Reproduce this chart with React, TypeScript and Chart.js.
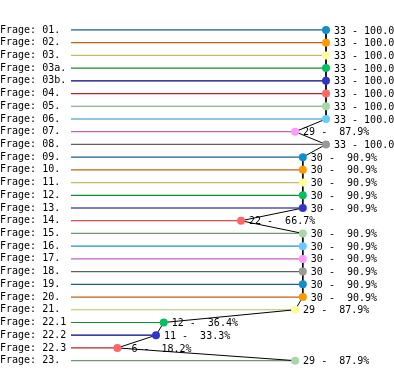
import React, { useEffect, useRef } from "react";
import { Chart, registerables } from "chart.js";

Chart.register(...registerables);

const categories = [
  "Frage: 01.", "Frage: 02.", "Frage: 03.", "Frage: 03a.", "Frage: 03b.",
  "Frage: 04.", "Frage: 05.", "Frage: 06.", "Frage: 07.", "Frage: 08.",
  "Frage: 09.", "Frage: 10.", "Frage: 11.", "Frage: 12.", "Frage: 13.",
  "Frage: 14.", "Frage: 15.", "Frage: 16.", "Frage: 17.", "Frage: 18.",
  "Frage: 19.", "Frage: 20.", "Frage: 21.", "Frage: 22.1", "Frage: 22.2",
  "Frage: 22.3", "Frage: 23.",
];

const counts = [
  33, 33, 33, 33, 33, 33, 33, 33, 29, 33,
  30, 30, 30, 30, 30, 22, 30, 30, 30, 30,
  30, 30, 29, 12, 11, 6, 29,
];

const percents = [
  100.0, 100.0, 100.0, 100.0, 100.0, 100.0, 100.0, 100.0, 87.9, 100.0,
  90.9, 90.9, 90.9, 90.9, 90.9, 66.7, 90.9, 90.9, 90.9, 90.9,
  90.9, 90.9, 87.9, 36.4, 33.3, 18.2, 87.9,
];

const lineColors = [
  "#1a5f8a", "#c06010", "#c0c060", "#109030", "#000080",
  "#c02020", "#709870", "#2090c0", "#c060c0", "#606060",
];

const pointColors = [
  "#1090c8", "#ff9900", "#ffff99", "#00c060", "#3333cc",
  "#ff6666", "#a8d8a8", "#66ccff", "#ff99ff", "#999999",
];

const FONT = "'DejaVu Sans Mono', monospace";

export default function App() {
  const ref = useRef<HTMLCanvasElement | null>(null);

  useEffect(() => {
    if (!ref.current) return;
    const n = categories.length;

    const connector = {
      type: "line" as const,
      data: counts.map((v, i) => ({ x: v, y: i })),
      borderColor: "#000000",
      borderWidth: 1,
      pointRadius: 4,
      pointHoverRadius: 4,
      pointBackgroundColor: counts.map((_, i) => pointColors[i % 10]),
      pointBorderColor: counts.map((_, i) => pointColors[i % 10]),
      pointBorderWidth: 0,
      clip: false as any,
      order: 0,
    };

    const rowLines = counts.map((v, i) => ({
      type: "line" as const,
      data: [
        { x: 0, y: i },
        { x: v, y: i },
      ],
      borderColor: lineColors[i % 10],
      borderWidth: 1.2,
      pointRadius: 0,
      clip: false as any,
      order: 1,
    }));

    const labelPlugin = {
      id: "valueLabels",
      afterDatasetsDraw(chart: any) {
        const ctx = chart.ctx;
        const xs = chart.scales.x;
        const ys = chart.scales.y;
        ctx.save();
        ctx.font = `10px ${FONT}`;
        ctx.fillStyle = "#000000";
        ctx.textAlign = "left";
        ctx.textBaseline = "middle";
        counts.forEach((v, i) => {
          const px = xs.getPixelForValue(v);
          const py = ys.getPixelForValue(i);
          const txt = `${String(v).padStart(2, " ")} - ${percents[i].toFixed(1).padStart(5, " ")}%`;
          ctx.fillText(txt, px + 8, py + 1);
        });
        ctx.restore();
      },
    };

    const chart = new Chart(ref.current, {
      type: "line",
      data: { datasets: [connector, ...rowLines] as any },
      options: {
        animation: false,
        responsive: false,
        maintainAspectRatio: false,
        layout: { padding: { left: 0, right: 68, top: 23.6, bottom: 5.7 } },
        plugins: {
          legend: { display: false },
          tooltip: { enabled: false },
        },
        scales: {
          x: {
            type: "linear",
            min: 0,
            max: 33,
            display: false,
          },
          y: {
            type: "linear",
            reverse: true,
            min: -0.5,
            max: n - 0.5,
            grid: { display: false },
            border: { display: false },
            afterBuildTicks: (scale: any) => {
              scale.ticks = categories.map((_, i) => ({ value: i }));
            },
            afterFit: (scale: any) => {
              scale.width = 71;
            },
            ticks: {
              autoSkip: false,
              crossAlign: "far",
              padding: 0,
              color: "#000000",
              font: { family: FONT, size: 10 },
              callback: (val: any) => categories[Number(val)] ?? "",
            },
          },
        },
      } as any,
      plugins: [labelPlugin],
    });

    return () => chart.destroy();
  }, []);

  return (
    <div style={{ position: "absolute", left: 0, top: 0, width: 394, height: 373, background: "#ffffff" }}>
      <canvas ref={ref} width={394} height={373} style={{ width: 394, height: 373 }} />
    </div>
  );
}
